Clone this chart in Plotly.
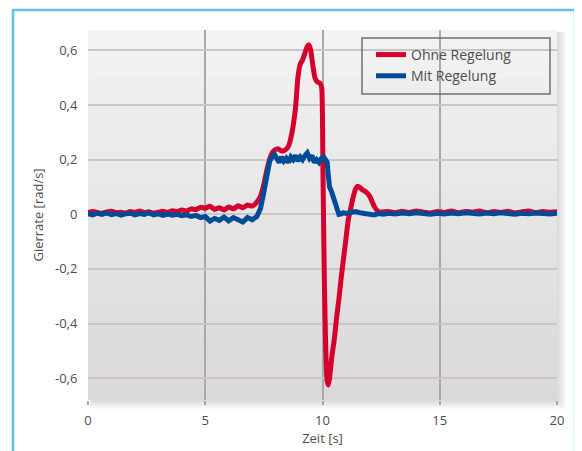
import plotly.graph_objects as go

# ---------------- data ----------------
t_ohne = [0.0, 0.2, 0.4, 0.6, 0.8, 1.0, 1.2, 1.4, 1.6, 1.8, 2.0, 2.2, 2.4, 2.6, 2.8, 3.0, 3.2, 3.4, 3.6, 3.8,
          4.0, 4.2, 4.4, 4.6, 4.8, 5.0, 5.2, 5.4, 5.6, 5.8, 6.0, 6.2, 6.4, 6.6, 6.8, 7.0, 7.2, 7.35, 7.5, 7.65,
          7.8, 7.95, 8.1, 8.25, 8.4, 8.55, 8.7, 8.85, 8.95, 9.05, 9.15, 9.25, 9.35, 9.42, 9.5, 9.58, 9.68, 9.78,
          9.9, 9.97, 10.02, 10.08, 10.14, 10.2, 10.25, 10.3, 10.4, 10.5, 10.6, 10.7, 10.8, 10.9, 11.0, 11.1,
          11.2, 11.3, 11.4, 11.5, 11.6, 11.7, 11.8, 11.9, 12.0, 12.1, 12.2, 12.35, 12.5, 12.8, 13.1, 13.4,
          13.7, 14.0, 14.3, 14.6, 14.9, 15.2, 15.5, 15.8, 16.1, 16.4, 16.7, 17.0, 17.3, 17.6, 17.9, 18.2,
          18.5, 18.8, 19.1, 19.4, 19.7, 20.0]
v_ohne = [0.006, 0.010, 0.007, 0.004, 0.009, 0.011, 0.006, 0.008, 0.004, 0.010, 0.007, 0.012, 0.006, 0.009,
          0.004, 0.008, 0.011, 0.007, 0.013, 0.010, 0.016, 0.012, 0.020, 0.017, 0.026, 0.022, 0.030, 0.018,
          0.024, 0.016, 0.027, 0.020, 0.031, 0.024, 0.034, 0.030, 0.045, 0.065, 0.11, 0.17, 0.215, 0.235,
          0.24, 0.232, 0.235, 0.25, 0.30, 0.39, 0.50, 0.55, 0.565, 0.59, 0.615, 0.62, 0.60, 0.55, 0.50,
          0.485, 0.48, 0.46, 0.15, -0.25, -0.50, -0.61, -0.625, -0.60, -0.52, -0.46, -0.38, -0.31, -0.23,
          -0.16, -0.09, -0.02, 0.02, 0.06, 0.09, 0.103, 0.098, 0.09, 0.085, 0.078, 0.068, 0.05, 0.03, 0.012,
          0.008, 0.010, 0.006, 0.011, 0.007, 0.012, 0.008, 0.005, 0.010, 0.007, 0.012, 0.006, 0.010, 0.008,
          0.012, 0.006, 0.010, 0.007, 0.011, 0.005, 0.009, 0.012, 0.006, 0.010, 0.008, 0.009]

t_mit = [0.0, 0.2, 0.4, 0.6, 0.8, 1.0, 1.2, 1.4, 1.6, 1.8, 2.0, 2.2, 2.4, 2.6, 2.8, 3.0, 3.2, 3.4, 3.6, 3.8,
         4.0, 4.2, 4.4, 4.6, 4.8, 5.0, 5.2, 5.4, 5.6, 5.8, 6.0, 6.2, 6.4, 6.6, 6.8, 7.0, 7.2, 7.35, 7.45, 7.55,
         7.65, 7.75, 7.85, 7.95, 8.05, 8.15, 8.25, 8.35, 8.45, 8.55, 8.65, 8.75, 8.85, 8.95, 9.05, 9.15, 9.25,
         9.35, 9.45, 9.55, 9.65, 9.75, 9.85, 9.95, 10.05, 10.15, 10.2, 10.25, 10.3, 10.38, 10.45, 10.55, 10.62,
         10.7, 10.8, 10.9, 11.0, 11.2, 11.4, 11.6, 11.8, 12.0, 12.2, 12.4, 12.6, 12.8, 13.1, 13.4, 13.7, 14.0,
         14.3, 14.6, 14.9, 15.2, 15.5, 15.8, 16.1, 16.4, 16.7, 17.0, 17.3, 17.6, 17.9, 18.2, 18.5, 18.8, 19.1,
         19.4, 19.7, 20.0]
v_mit = [0.002, -0.002, 0.004, 0.0, 0.005, -0.001, 0.003, -0.003, 0.002, 0.004, -0.002, 0.003, 0.0, 0.005,
         -0.002, 0.002, -0.004, 0.001, -0.003, 0.0, -0.005, -0.002, -0.008, -0.004, -0.012, -0.008, -0.025,
         -0.015, -0.022, -0.010, -0.024, -0.012, -0.020, -0.028, -0.012, -0.020, -0.008, 0.02, 0.06, 0.11,
         0.16, 0.195, 0.21, 0.22, 0.205, 0.19, 0.21, 0.195, 0.205, 0.19, 0.21, 0.20, 0.215, 0.195, 0.21, 0.20,
         0.215, 0.225, 0.205, 0.215, 0.19, 0.20, 0.19, 0.205, 0.21, 0.195, 0.19, 0.14, 0.10, 0.085, 0.06,
         0.04, 0.02, 0.0, 0.002, 0.006, 0.003, 0.008, 0.010, 0.006, 0.004, 0.0, -0.002, 0.003, 0.0, 0.004,
         0.001, 0.005, 0.002, 0.006, 0.003, 0.0, 0.004, 0.001, 0.005, 0.002, 0.006, 0.003, 0.001, 0.005,
         0.002, 0.006, 0.003, 0.0, 0.004, 0.002, 0.005, 0.003, 0.001, 0.004]

x_ticks = [0, 5, 10, 15, 20]
x_labels = ["0", "5", "10", "15", "20"]
y_ticks = [-0.6, -0.4, -0.2, 0, 0.2, 0.4, 0.6]
y_labels = ["-0,6", "-0,4", "-0,2", "0", "0,2", "0,4", "0,6"]

series_names = ["Ohne Regelung", "Mit Regelung"]

RED = "#d5002d"
BLUE = "#004b98"
TXT = "#4d4d4d"
FONT = "Open Sans"

# page body has an 8px default margin; figure is sized/offset to compensate
PW, PH = 469, 370   # plot area size in px
PL, PT = 88, 30     # plot area top-left in the page (screen) coords

fig = go.Figure()
fig.add_trace(go.Scatter(x=t_ohne, y=v_ohne, mode="lines", name=series_names[0],
                         line=dict(color=RED, width=5, shape="spline", smoothing=0.4)))
fig.add_trace(go.Scatter(x=t_mit, y=v_mit, mode="lines", name=series_names[1],
                         line=dict(color=BLUE, width=5)))


def px(x):
    return (x - PL) / PW


def py(y):
    return (PT + PH - y) / PH


shapes = []
# soft shadow right/bottom (drawn first, below the gradient)
for k in range(1, 7):
    dx = k * 1.5 / PW
    dy = k * 1.5 / PH
    shapes.append(dict(type="rect", xref="paper", yref="paper", layer="below",
                       x0=0.005, x1=1 + dx, y0=-dy, y1=0.995,
                       line=dict(width=0), fillcolor="rgba(0,0,0,0.022)"))
# background gradient bands inside plot area
n = 30
top = (243, 243, 243)
bot = (218, 216, 217)
for i in range(n):
    f = i / (n - 1)
    c = tuple(int(round(top[k] + (bot[k] - top[k]) * f)) for k in range(3))
    shapes.append(dict(type="rect", xref="paper", yref="paper", layer="below",
                       x0=0, x1=1, y0=1 - (i + 1) / n, y1=1 - i / n,
                       line=dict(width=0), fillcolor="rgb(%d,%d,%d)" % c))
# blue frame
L, R, T, B = px(13), px(575), py(10), py(470)
shapes.append(dict(type="path", xref="paper", yref="paper",
                   path=f"M {L} {B} L {L} {T} L {R} {T} L {R} {B}",
                   line=dict(color="#5ec2ea", width=2.5)))
# legend box
shapes.append(dict(type="rect", xref="paper", yref="paper",
                   x0=px(362), x1=px(550), y0=py(94), y1=py(38),
                   line=dict(color="#707070", width=1.5), fillcolor="rgba(0,0,0,0)"))

OFF = 8
fig.update_layout(
    width=582 - OFF, height=451 - OFF,
    margin=dict(l=PL - OFF, r=(582 - OFF) - (PL - OFF) - PW, t=PT - OFF,
                b=(451 - OFF) - (PT - OFF) - PH),
    paper_bgcolor="white",
    plot_bgcolor="rgba(0,0,0,0)",
    font=dict(family=FONT, size=13, color=TXT),
    shapes=shapes,
    showlegend=True,
    legend=dict(x=px(371), y=py(39), xanchor="left", yanchor="top",
                bgcolor="rgba(0,0,0,0)", borderwidth=0, itemwidth=30,
                font=dict(family=FONT, size=14, color=TXT), tracegroupgap=0),
    xaxis=dict(range=[0, 20], tickvals=x_ticks, ticktext=x_labels, automargin=False,
               showgrid=True, gridcolor="#a9a9a9", gridwidth=1.5, zeroline=False,
               ticks="outside", ticklen=4, tickcolor="#a9a9a9", tickwidth=1.5,
               ticklabelstandoff=4,
               showline=False, tickfont=dict(size=13, color=TXT),
               title=dict(text="Zeit [s]", standoff=2, font=dict(size=13, color=TXT))),
    yaxis=dict(range=[-0.68, 0.675], tickvals=y_ticks, ticktext=y_labels, automargin=False,
               showgrid=True, gridcolor="#cbc6c6", gridwidth=2, zeroline=False,
               ticks="outside", ticklen=7, tickcolor="rgba(0,0,0,0)",
               showline=False, tickfont=dict(size=13, color=TXT),
               title=dict(text="Gierrate [rad/s]", standoff=8, font=dict(size=13, color=TXT))),
)

fig.write_html("out.html")
